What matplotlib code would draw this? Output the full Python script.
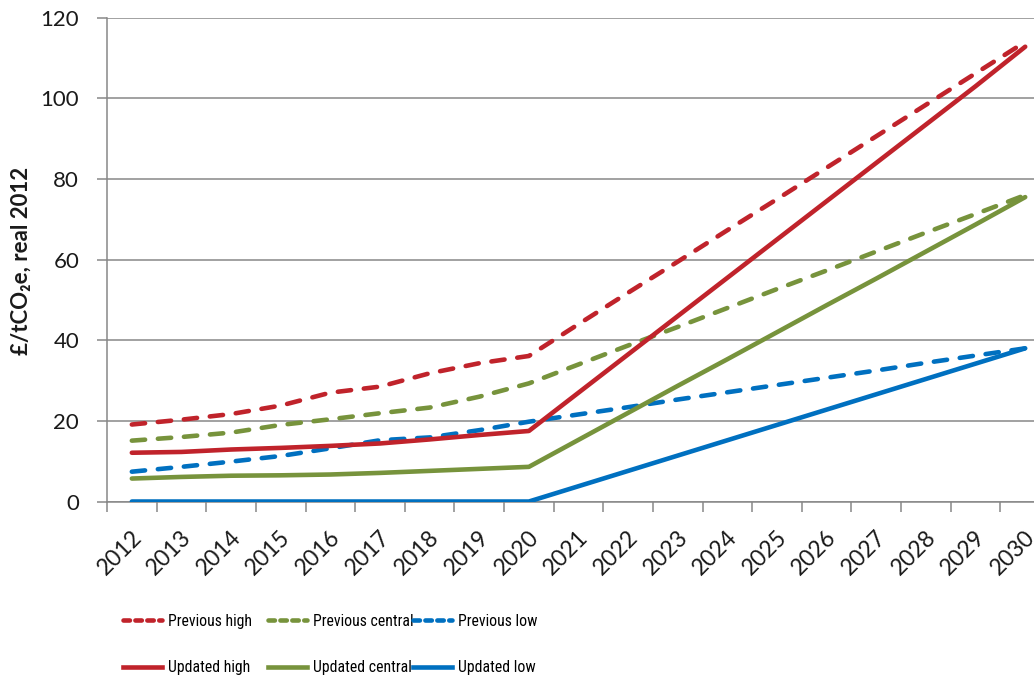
import matplotlib.pyplot as plt
from matplotlib.lines import Line2D
from matplotlib.transforms import ScaledTranslation
from matplotlib.font_manager import FontProperties

years = [str(y) for y in range(2012, 2031)]

prev_high = [19.1, 20.3, 21.7, 23.8, 27.0, 28.5, 31.8, 34.3, 36.1,
             44.0, 51.8, 59.5, 67.3, 75.0, 82.8, 90.6, 98.4, 106.2, 114.0]
prev_central = [15.1, 16.0, 17.1, 19.0, 20.4, 21.9, 23.3, 26.0, 29.3,
                34.0, 38.7, 43.3, 48.0, 52.7, 57.3, 62.0, 66.7, 71.3, 76.0]
prev_low = [7.4, 8.6, 9.9, 11.3, 13.2, 15.2, 15.9, 17.7, 19.8,
            21.6, 23.4, 25.3, 27.1, 28.9, 30.7, 32.5, 34.4, 36.2, 38.0]
upd_high = [12.1, 12.3, 12.9, 13.3, 13.8, 14.4, 15.4, 16.5, 17.5,
            27.0, 36.5, 46.0, 55.5, 65.0, 74.5, 84.0, 93.5, 103.0, 112.8]
upd_central = [5.7, 6.1, 6.4, 6.5, 6.7, 7.1, 7.6, 8.1, 8.6,
               15.3, 22.0, 28.7, 35.3, 42.0, 48.7, 55.3, 62.0, 68.7, 75.5]
upd_low = [0, 0, 0, 0, 0, 0, 0, 0, 0,
           3.8, 7.6, 11.4, 15.2, 19.0, 22.8, 26.6, 30.4, 34.2, 38.0]

RED = '#C0232B'
GREEN = '#77933C'
BLUE = '#0070C0'
GREY = '#878787'
INK = '#1a1a1a'

plt.rcParams['font.family'] = ['Lato', 'DejaVu Sans']

fig = plt.figure(figsize=(10.34, 6.83), dpi=100)
ax = fig.add_axes([0.1035, 0.2657, 0.912, 0.7084])

x = list(range(len(years)))
lw = 3.3
dash = (2.9, 2.8)

series = [
    (prev_high, RED, True, 'Previous high'),
    (prev_central, GREEN, True, 'Previous central'),
    (prev_low, BLUE, True, 'Previous low'),
    (upd_high, RED, False, 'Updated high'),
    (upd_central, GREEN, False, 'Updated central'),
    (upd_low, BLUE, False, 'Updated low'),
]
for vals, col, dashed, lab in series:
    if dashed:
        ax.plot(x, vals, color=col, lw=lw, dashes=dash, dash_capstyle='round',
                solid_capstyle='round', label=lab, zorder=3)
    else:
        ax.plot(x, vals, color=col, lw=lw, solid_capstyle='round',
                label=lab, zorder=3)

ax.set_xlim(-0.5, 18.5)
ax.set_ylim(0, 120)
ax.set_yticks(range(0, 121, 20))
ax.grid(axis='y', color=GREY, lw=1.1)
ax.set_axisbelow(True)

# tick marks sit on the category boundaries, labels on the categories
ax.set_xticks([i - 0.5 for i in range(len(years) + 1)])
ax.set_xticklabels([])
ax.set_xticks(x, minor=True)
ax.set_xticklabels(years, minor=True, rotation=45, ha='right', va='top',
                   rotation_mode='anchor', fontsize=16.5, color=INK)
ax.tick_params(axis='x', which='major', length=7, width=1.1, color=GREY)
ax.tick_params(axis='x', which='minor', length=0, pad=18)
ax.tick_params(axis='y', length=7, width=1.1, color=GREY, pad=13,
               labelsize=16, labelcolor=INK)
shift = ScaledTranslation(-1 / 100, 0, fig.dpi_scale_trans)
for lab in ax.get_xticklabels(minor=True):
    lab.set_transform(lab.get_transform() + shift)

for s in ['top', 'right']:
    ax.spines[s].set_visible(False)
for s in ['left', 'bottom']:
    ax.spines[s].set_color(GREY)
    ax.spines[s].set_linewidth(1.1)

fig.text(0.0205, 0.618, '£/tCO₂e, real 2012', rotation=90, ha='center', va='center',
         fontsize=16, fontweight='bold', color=INK)

# legend: one box per column so the columns keep equal widths
leg_font = FontProperties(family=['Roboto Condensed', 'DejaVu Sans'],
                          stretch='condensed', size=11.3)
col_x = [123, 268, 413]
pairs = [(0, 3), (1, 4), (2, 5)]
for cx, (a, b) in zip(col_x, pairs):
    handles = []
    for idx in (a, b):
        vals, col, dashed, lab = series[idx]
        if dashed:
            h = Line2D([], [], color=col, lw=lw, dashes=(1.4, 1.2),
                       dash_capstyle='round', label=lab)
        else:
            h = Line2D([], [], color=col, lw=lw, label=lab)
        handles.append(h)
    fig.legend(handles=handles, loc='center left',
               bbox_to_anchor=(cx / 1034, 1 - 644.5 / 683),
               frameon=False, prop=leg_font, handlelength=2.5, handletextpad=0.35,
               labelspacing=2.0, borderaxespad=0, borderpad=0)

fig.savefig('out.png', dpi=100)
